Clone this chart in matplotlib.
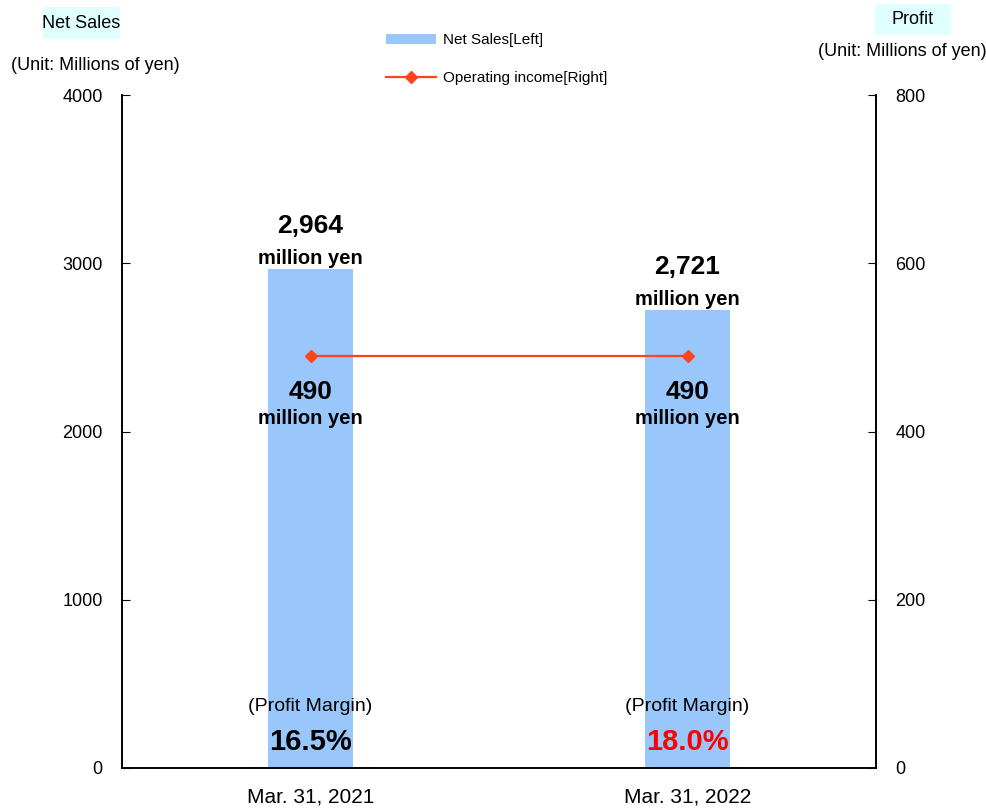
import matplotlib
matplotlib.use("Agg")
import matplotlib.pyplot as plt
from matplotlib.patches import Patch, Rectangle
from matplotlib.lines import Line2D

plt.rcParams['font.family'] = ['Liberation Sans', 'DejaVu Sans']

# data (millions of yen)
periods = ['Mar. 31, 2021', 'Mar. 31, 2022']
net_sales = [2964, 2721]
operating_income = [490, 490]
margin_colors = ['black', 'red']

bar_color = '#99C7FB'
line_color = '#FF4419'
box_color = '#E0FFFF'

W, H = 986, 808
fig = plt.figure(figsize=(W / 100, H / 100), dpi=100)
ax = fig.add_axes([122 / W, 40 / H, 754 / W, 673 / H])
ax2 = ax.twinx()

x = list(range(len(periods)))
ax.bar(x, net_sales, width=0.223, color=bar_color, zorder=1)
ax2.plot(x, operating_income, color=line_color, lw=1.6, marker='D', ms=6, zorder=3)

ax.set_xlim(-0.5, 1.5)
ax.set_ylim(0, 4000)
ax2.set_ylim(0, 800)
ax.set_yticks([0, 1000, 2000, 3000, 4000])
ax2.set_yticks([0, 200, 400, 600, 800])
ax.set_xticks(x)
ax.set_xticklabels(periods, fontsize=15)
ax.tick_params(axis='x', length=0, pad=14)
ax.tick_params(axis='y', direction='in', length=6, labelsize=13, pad=14)
ax2.tick_params(axis='y', direction='in', length=6, labelsize=13, pad=14)
for a in (ax, ax2):
    a.spines['top'].set_visible(False)
    for s in ('left', 'right', 'bottom'):
        a.spines[s].set_linewidth(1.2)

# value labels
for i, (s, p) in enumerate(zip(net_sales, operating_income)):
    ax.annotate(f'{s:,}', (i, s), xytext=(0, 31), textcoords='offset points',
                ha='center', va='center', fontsize=19, fontweight='bold')
    ax.annotate('million yen', (i, s), xytext=(0, 8), textcoords='offset points',
                ha='center', va='center', fontsize=14.5, fontweight='bold')
    ax2.annotate(f'{p:,}', (i, p), xytext=(0, -26), textcoords='offset points',
                 ha='center', va='center', fontsize=19, fontweight='bold')
    ax2.annotate('million yen', (i, p), xytext=(0, -45), textcoords='offset points',
                 ha='center', va='center', fontsize=14.5, fontweight='bold')
    margin = p / s * 100
    ax.annotate('(Profit Margin)', (i, 0), xytext=(0, 44), textcoords='offset points',
                ha='center', va='center', fontsize=14)
    ax.annotate(f'{margin:.1f}%', (i, 0), xytext=(0, 19), textcoords='offset points',
                ha='center', va='center', fontsize=21, fontweight='bold',
                color=margin_colors[i])

# axis titles with shaded boxes
fig.patches.append(Rectangle((43 / W, 1 - 39 / H), 77 / W, 32 / H, transform=fig.transFigure,
                             fc=box_color, ec='none', zorder=0))
fig.patches.append(Rectangle((875 / W, 1 - 35 / H), 76 / W, 31 / H, transform=fig.transFigure,
                             fc=box_color, ec='none', zorder=0))
fig.text(81 / W, 1 - 23 / H, 'Net Sales', ha='center', va='center', fontsize=13)
fig.text(95 / W, 1 - 66 / H, '(Unit: Millions of yen)', ha='center', va='center', fontsize=13)
fig.text(913 / W, 1 - 19 / H, 'Profit', ha='center', va='center', fontsize=13)
fig.text(902 / W, 1 - 51 / H, '(Unit: Millions of yen)', ha='center', va='center', fontsize=13)

handles = [Patch(facecolor=bar_color, edgecolor='none'),
           Line2D([], [], color=line_color, lw=1.6, marker='D', ms=6)]
fig.legend(handles, ['Net Sales[Left]', 'Operating income[Right]'],
           loc='upper left', bbox_to_anchor=(386 / W, 1 - 33 / H), frameon=False,
           fontsize=11, handlelength=3.3, handleheight=0.65, handletextpad=0.45,
           labelspacing=1.6, borderpad=0, borderaxespad=0)

fig.savefig('out.png', dpi=100)
